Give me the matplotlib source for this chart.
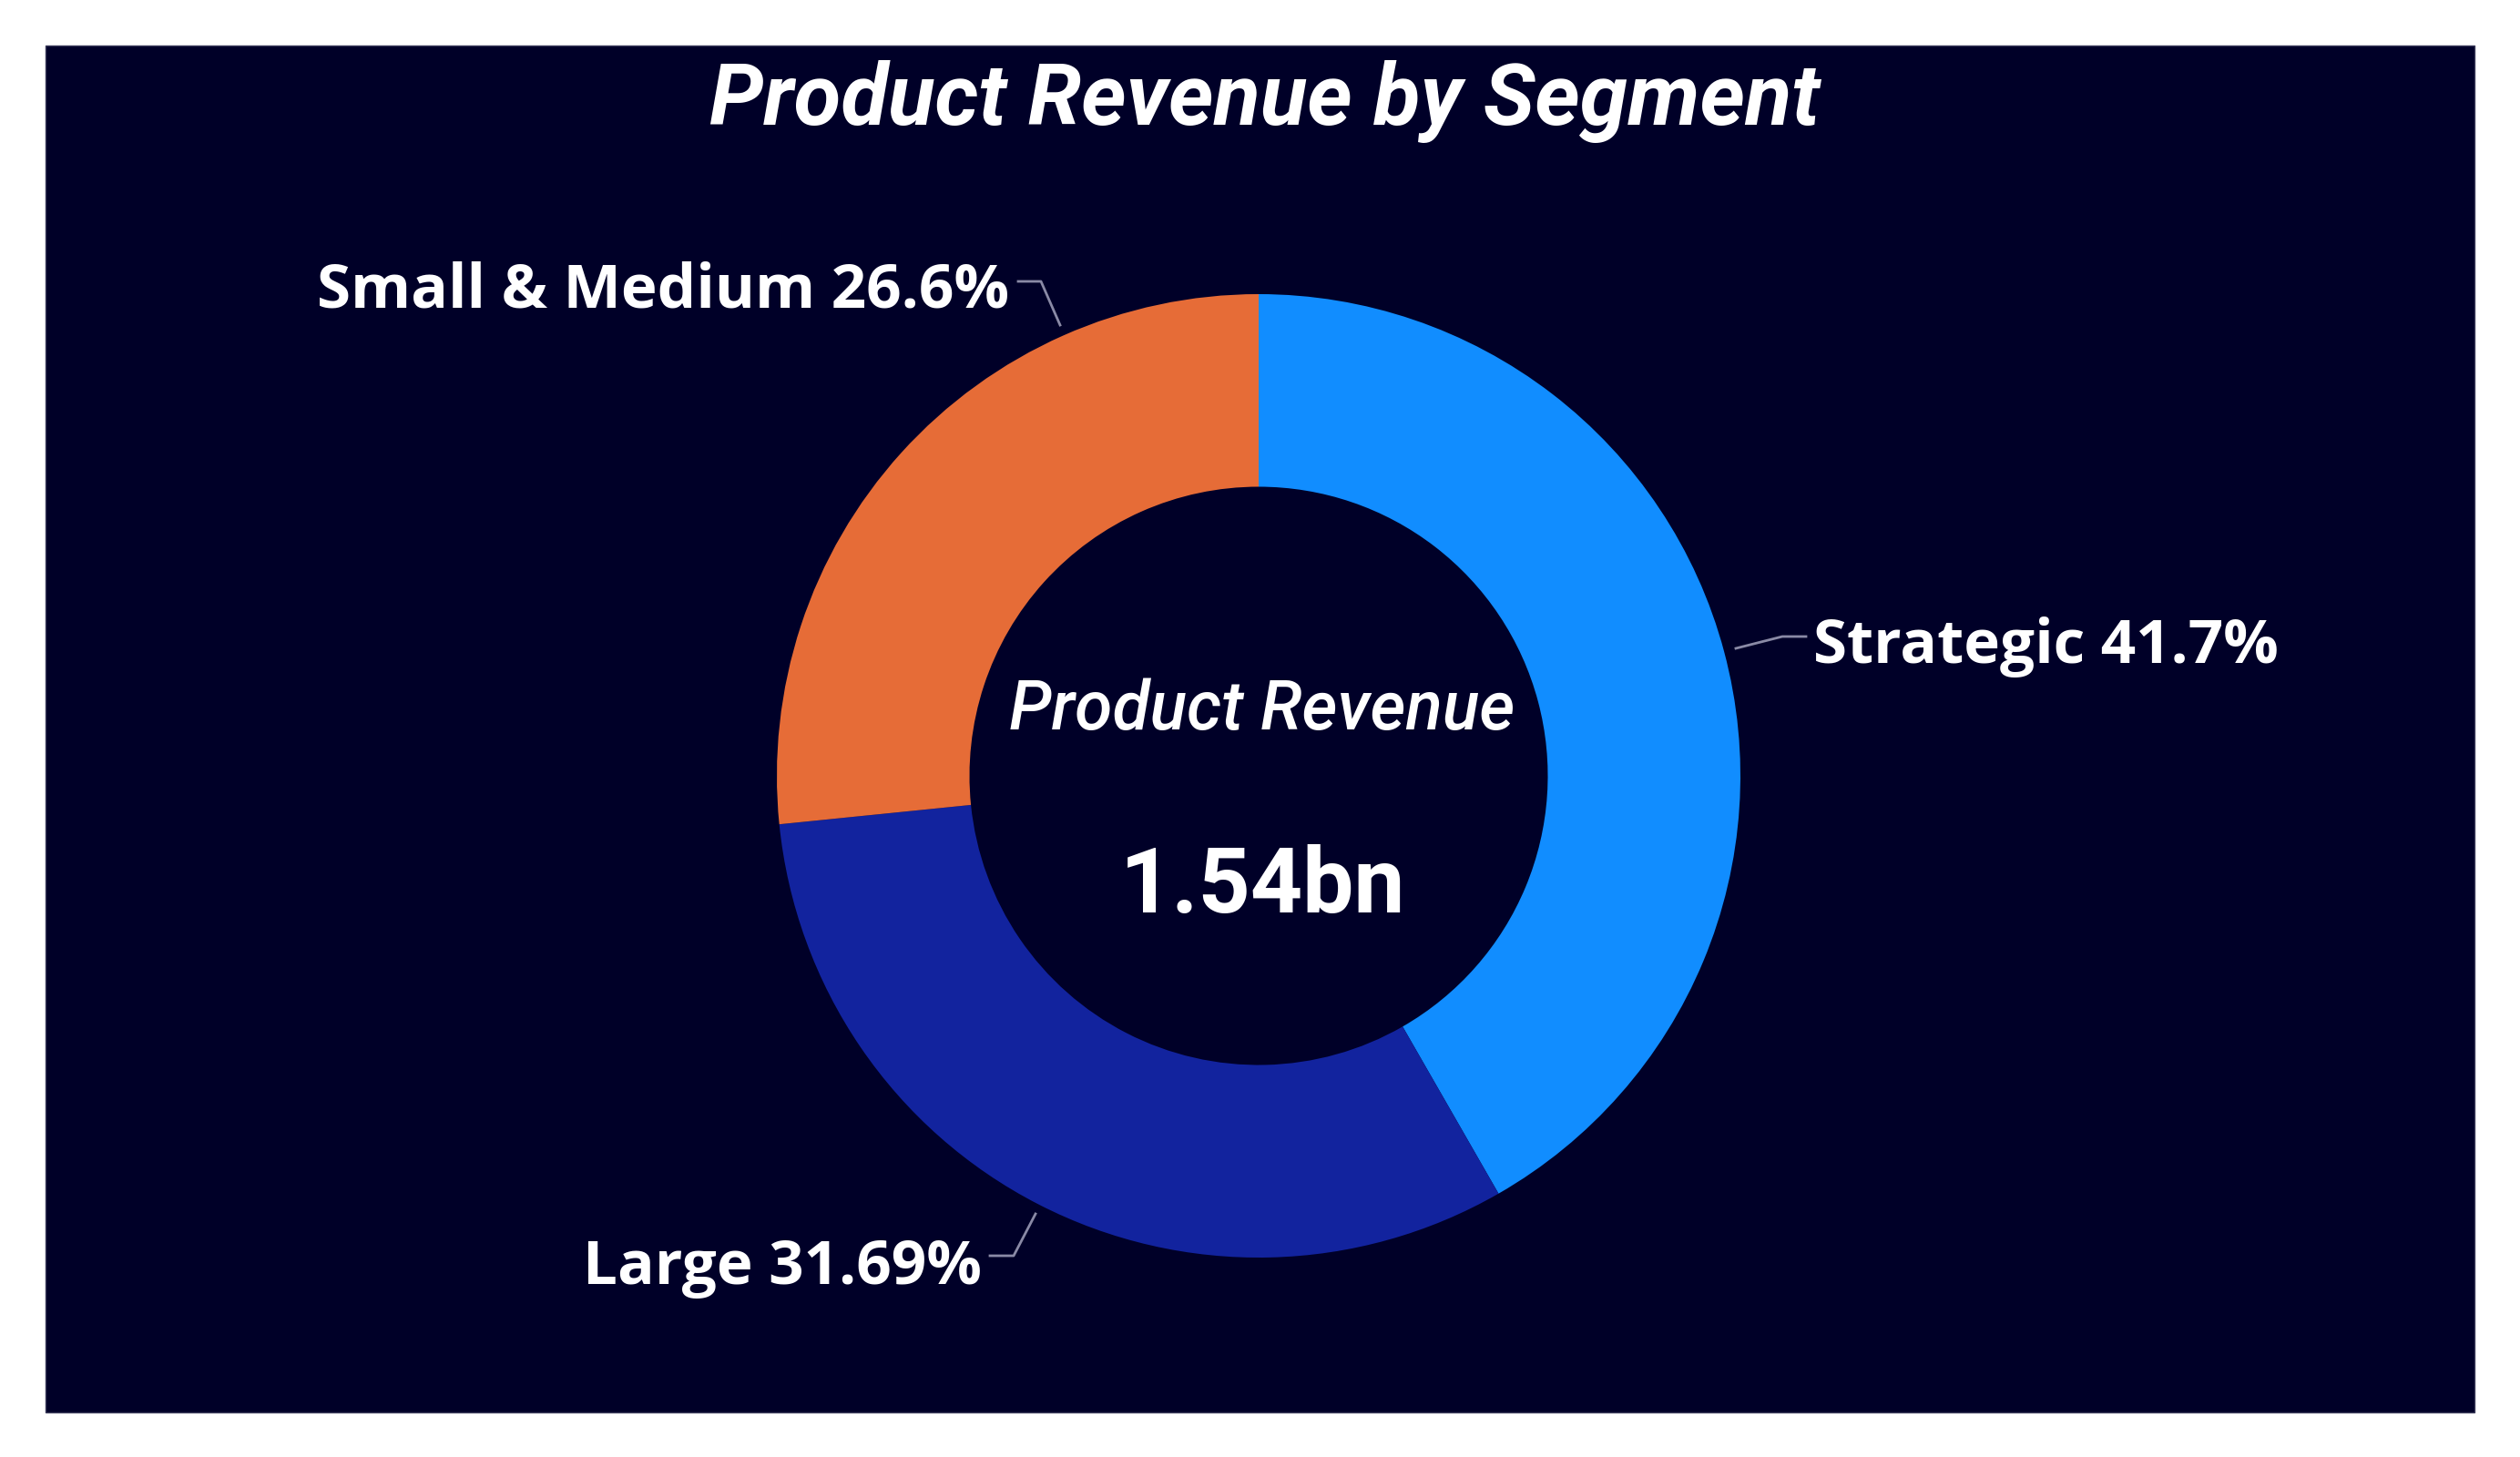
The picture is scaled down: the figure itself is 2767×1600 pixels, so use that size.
import matplotlib
matplotlib.use("Agg")
import matplotlib.pyplot as plt
from matplotlib.patches import Rectangle
import numpy as np

# ---- data ----
segments = ["Strategic", "Large", "Small & Medium"]
share_labels = ["41.7%", "31.69%", "26.6%"]
shares = [41.7, 31.69, 26.6]
colors = ["#118DFF", "#12239E", "#E66C37"]
total_label = "1.54bn"
center_title = "Product Revenue"
chart_title = "Product Revenue by Segment"

W, H = 2767, 1600
BG = "#000028"
fig = plt.figure(figsize=(W / 100, H / 100), dpi=100, facecolor="white")
ax = fig.add_axes([0, 0, 1, 1])
ax.set_xlim(0, W)
ax.set_ylim(H, 0)  # pixel coordinates, y downward
ax.set_aspect("equal")
ax.axis("off")

ax.add_patch(Rectangle((50, 50), 2667, 1501, facecolor=BG, edgecolor="#3a3a5a", lw=1, zorder=0))

cx, cy, R, r_in = 1382, 852, 529, 317.5
# y axis is inverted: startangle -90 = visual top, counterclock in data = visual clockwise
wedges, _ = ax.pie(shares, colors=colors, startangle=-90, counterclock=True,
                   radius=R, center=(cx, cy),
                   wedgeprops=dict(width=R - r_in, edgecolor="none"))
for w in wedges:
    w.set_zorder(2)
ax.set_xlim(0, W)
ax.set_ylim(H, 0)
ax.axis("off")

label_font = dict(family=["Open Sans", "DejaVu Sans"], fontweight="bold", color="white", fontsize=48.5)
lead = dict(color="#8a8aa6", lw=2, zorder=3)

# Strategic label (right)
ax.text(1991, 728, f"{segments[0]} {share_labels[0]}", ha="left", va="baseline", **label_font)
ax.plot([1906, 1957, 1983], [712, 699, 699], **lead)
# Large label (bottom left)
ax.text(1078, 1410, f"{segments[1]} {share_labels[1]}", ha="right", va="baseline", **label_font)
ax.plot([1087, 1113, 1137], [1379, 1379, 1333], **lead)
# Small & Medium label (top left)
ax.text(1108, 337, f"{segments[2]} {share_labels[2]}", ha="right", va="baseline", **label_font)
ax.plot([1118, 1143, 1164], [309, 309, 357], **lead)

ax.text(1389, 137, chart_title, ha="center", va="baseline", color="white",
        fontsize=68, fontweight="bold", style="italic", family=["Roboto", "DejaVu Sans"])
ax.text(1386, 801, center_title, ha="center", va="baseline", color="white",
        fontsize=54, fontweight="medium", style="italic", family=["Roboto", "DejaVu Sans"])
ax.text(1386, 1002, total_label, ha="center", va="baseline", color="white",
        fontsize=72, fontweight="bold", family=["Roboto", "DejaVu Sans"])

fig.savefig("out.png", dpi=100, facecolor="white")
